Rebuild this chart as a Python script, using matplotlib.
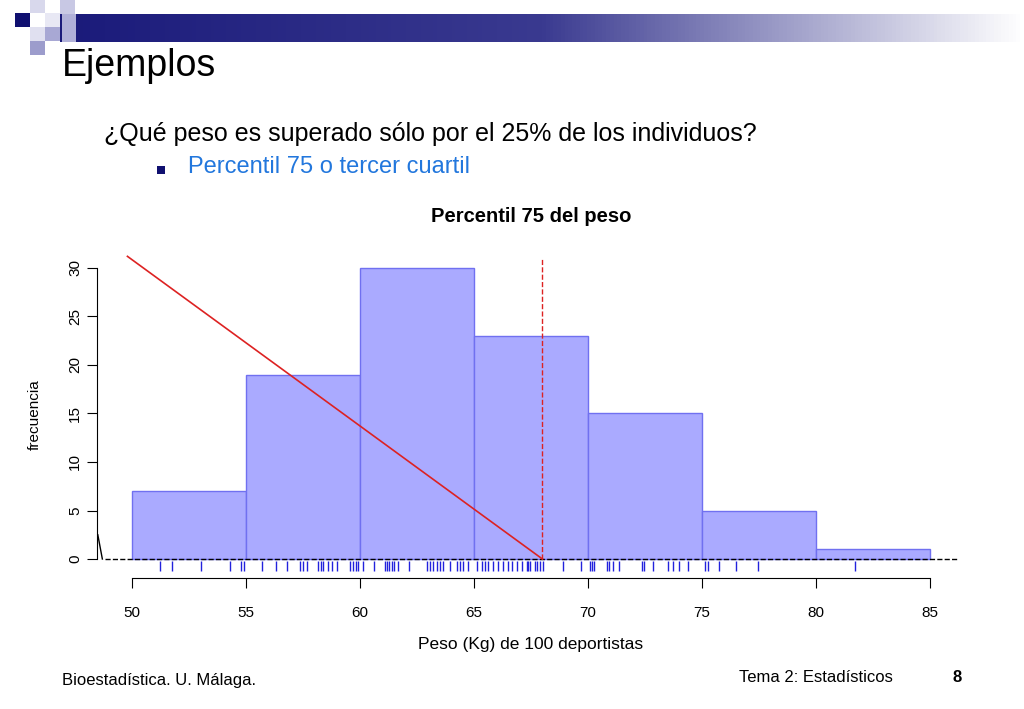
import matplotlib.pyplot as plt
from matplotlib.patches import Rectangle
from matplotlib.colors import LinearSegmentedColormap
import numpy as np

plt.rcParams['font.family'] = 'Liberation Sans'

# histogram data
bin_edges = [50, 55, 60, 65, 70, 75, 80, 85]
counts = [7, 19, 30, 23, 15, 5, 1]
rug = [51.23, 51.74, 53.03, 54.30, 54.77, 54.91, 55.69, 56.32, 56.78, 57.37,
       57.51, 57.69, 58.17, 58.28, 58.39, 58.61, 58.76, 58.98, 59.56, 59.71,
       59.81, 59.90, 60.15, 60.61, 61.10, 61.20, 61.29, 61.39, 61.49, 61.68,
       62.16, 62.92, 63.07, 63.22, 63.36, 63.51, 63.66, 63.95, 64.24, 64.39,
       64.53, 64.75, 65.12, 65.34, 65.48, 65.63, 65.85, 66.07, 66.29, 66.51,
       66.65, 66.87, 67.09, 67.31, 67.46, 67.75, 67.38, 67.68, 67.89, 68.04,
       68.92, 69.70, 70.09, 70.16, 70.26, 70.82, 70.93, 71.08, 71.37, 72.35,
       72.46, 72.84, 73.52, 73.71, 74.01, 74.40, 75.13, 75.28, 75.76, 76.49,
       77.47, 81.71]
p75 = 68.0
line_x = [49.8, 68.0]
line_y = [31.2, 0.0]

fig = plt.figure(figsize=(10.24, 7.09), dpi=100)

# slide decoration
bg = fig.add_axes([0, 0, 1, 1])
bg.set_xlim(0, 1024)
bg.set_ylim(709, 0)
bg.axis('off')
grad = np.linspace(0, 1, 256).reshape(1, -1)
cm = LinearSegmentedColormap.from_list('g', ['#1a1a7a', '#3a3a90', '#ffffff'])
bg.imshow(grad, cmap=cm, extent=[60, 1024, 42, 14], aspect='auto')
for (x, y, w, h, c) in [(15, 13, 15, 14, '#101070'), (30, 0, 15, 13, '#d8d8ec'),
                        (45, 13, 15, 14, '#e8e8f4'), (60, 0, 15, 14, '#c8c8e4'),
                        (30, 27, 15, 14, '#e0e0f0'), (45, 27, 15, 14, '#a8a8d4'),
                        (30, 41, 15, 14, '#9c9ccc'), (62, 14, 14, 28, '#b0b0d8')]:
    bg.add_patch(Rectangle((x, y), w, h, color=c, lw=0))
bg.text(62, 66, 'Ejemplos', fontsize=27, va='center')
bg.text(104, 134, '¿Qué peso es superado sólo por el 25% de los individuos?',
        fontsize=18, va='center')
bg.add_patch(Rectangle((157, 166), 8, 8, color='#101070', lw=0))
bg.text(188, 167, 'Percentil 75 o tercer cuartil', fontsize=17, va='center',
        color='#2277dd')
bg.text(62, 680, 'Bioestadística. U. Málaga.', fontsize=12, va='center')
bg.text(739, 678, 'Tema 2: Estadísticos', fontsize=12, va='center')
bg.text(957, 678, '8', fontsize=12, va='center', ha='center', fontweight='bold')
bg.text(531, 217, 'Percentil 75 del peso', fontsize=14.5, ha='center',
        va='center', fontweight='bold')
bg.text(531, 645, 'Peso (Kg) de 100 deportistas', fontsize=12.5, ha='center',
        va='center')
bg.text(35, 415, 'frecuencia', fontsize=11, ha='center', va='center',
        rotation=90)

# chart
ax = fig.add_axes([90 / 1024, (709 - 585) / 709, 875 / 1024, 340 / 709])
ax.set_xlim(48.158, 86.535)
ax.set_ylim(-2.68, 32.37)
ax.patch.set_alpha(0)
ax.bar(bin_edges[:-1], counts, width=5, align='edge', color='#aaaaff',
       edgecolor='#7070f0', lw=1)
ax.plot([48.8, 86.2], [0, 0], 'k--', lw=1)
ax.plot([p75, p75], [0, 31.0], color='#dd2222', ls='--', lw=1)
ax.plot(line_x, line_y, color='#dd2222', lw=1.2)
ax.plot([48.5, 48.7], [2.5, 0], color='k', lw=1)
ax.vlines(rug, -1.24, -0.2, color='#2222dd', lw=1)

ax.spines['top'].set_visible(False)
ax.spines['right'].set_visible(False)
ax.spines['bottom'].set_position(('data', -1.96))
ax.spines['bottom'].set_bounds(50, 85)
ax.spines['left'].set_position(('data', 48.46))
ax.spines['left'].set_bounds(0, 30)
ax.set_xticks(range(50, 90, 5))
ax.set_yticks(range(0, 35, 5))
ax.tick_params(labelsize=11, length=7)
ax.tick_params(axis='x', pad=13)
for lab in ax.get_yticklabels():
    lab.set_rotation(90)
    lab.set_va('center')

fig.savefig('out.png', dpi=100)
